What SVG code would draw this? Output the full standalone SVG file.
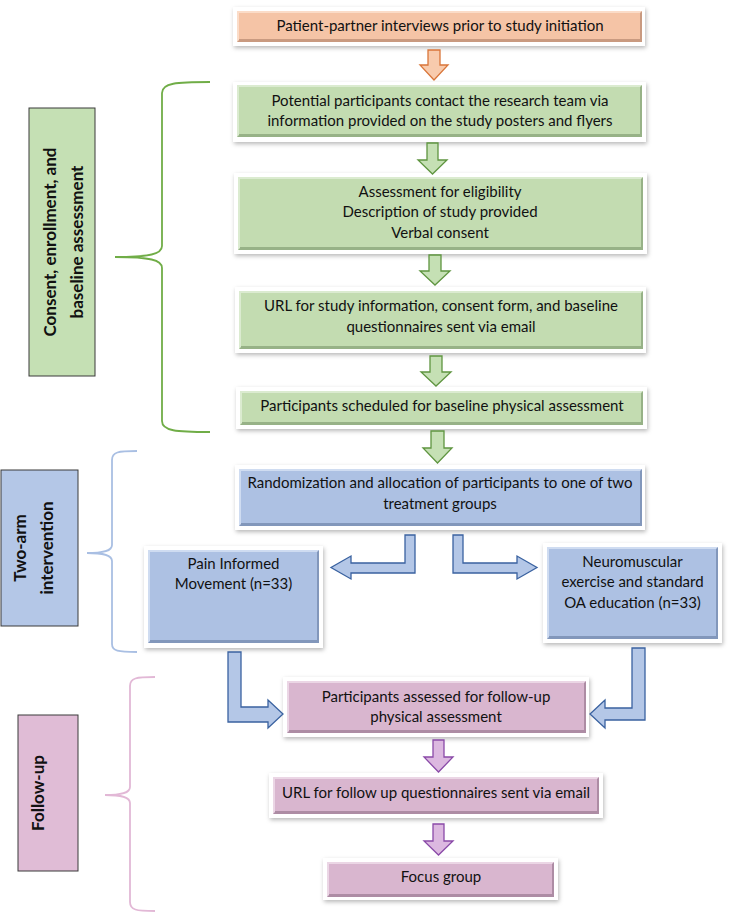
<svg xmlns="http://www.w3.org/2000/svg" width="731" height="913" viewBox="0 0 731 913">
<defs>
<filter id="sh" x="-10%" y="-20%" width="120%" height="150%">
<feDropShadow dx="1" dy="2" stdDeviation="2" flood-color="#000" flood-opacity="0.28"/>
</filter>
</defs>
<style>
.t{font-family:Lato,"Liberation Sans",sans-serif;font-size:15px;fill:#111;text-anchor:middle}
.lb{font-family:Lato,"Liberation Sans",sans-serif;font-size:17px;font-weight:bold;fill:#111;text-anchor:middle}
.frame{fill:#fff;filter:url(#sh)}
.o-d{fill:#c99a80}.o-l{fill:#fbdcc8}.o-f{fill:#f5c4a6}
.g-d{fill:#97b287}.g-l{fill:#dbebd0}.g-f{fill:#c3dcb1}
.b-d{fill:#8297bb}.b-l{fill:#cfdcf1}.b-f{fill:#adc1e3}
.p-d{fill:#ad8ca4}.p-l{fill:#ebd6e5}.p-f{fill:#d9b6cf}
.arr-o{fill:#f8cbad;stroke:#d9763a;stroke-width:1.3}
.arr-g{fill:#c5e0b4;stroke:#5f9540;stroke-width:1.3}
.arr-b{fill:#b4c7e7;stroke:#3a62a0;stroke-width:1.3}
.arr-p{fill:#dcb8e0;stroke:#8a4aa8;stroke-width:1.3}
.brace{fill:none;stroke-width:1.8}
.lbox{stroke:#3a3a3a;stroke-width:1}
</style>

<!-- Section labels and braces -->
<g id="label-consent">
<rect class="lbox" x="29" y="108" width="66" height="268" fill="#c5e0b4"/>
<text class="lb" transform="translate(56,242) rotate(-90)">Consent, enrollment, and</text>
<text class="lb" transform="translate(83,242) rotate(-90)">baseline assessment</text>
</g>
<g id="label-twoarm">
<rect class="lbox" x="1" y="470" width="77" height="156" fill="#b4c7e7"/>
<text class="lb" transform="translate(26,548) rotate(-90)">Two-arm</text>
<text class="lb" transform="translate(53,548) rotate(-90)">intervention</text>
</g>
<g id="label-followup">
<rect class="lbox" x="18" y="715" width="60" height="156" fill="#e0bcd6"/>
<text class="lb" transform="translate(44,793) rotate(-90)">Follow-up</text>
</g>
<g id="braces">
<path class="brace" stroke="#70ad47" d="M210,82 C176,82 162,83 162,93 L162,246 C162,254 150,257 115,257 C150,257 162,260 162,268 L162,421 C162,431 176,432 210,432"/>
<path class="brace" stroke="#a9bfe3" d="M137,451 C118,451 112,452 112,460 L112,545 C112,551 104,553 87,553 C104,553 112,555 112,561 L112,644 C112,651 118,652 137,652"/>
<path class="brace" stroke="#e2b8d6" d="M155,677 C136,677 130,678 130,686 L130,787 C130,793 122,795 105,795 C122,795 130,797 130,803 L130,902 C130,910 136,911 155,911"/>
</g>

<!-- Nodes -->
<g id="n-patient">
<rect class="frame" x="233" y="7" width="412" height="39"/>
<rect class="o-d" x="237" y="11" width="405" height="31"/>
<polygon class="o-l" points="237,11 642,11 640,13 239,13 239,40 237,42"/>
<rect class="o-f" x="239" y="13" width="401" height="26"/>
<text class="t" x="440" y="31">Patient-partner interviews prior to study initiation</text>
</g>

<g id="n-contact">
<rect class="frame" x="233" y="82" width="413" height="60"/>
<rect class="g-d" x="237" y="85" width="405" height="52"/>
<polygon class="g-l" points="237,85 642,85 640,87 239,87 239,135 237,137"/>
<rect class="g-f" x="239" y="87" width="401" height="47"/>
<text class="t" x="440" y="106">Potential participants contact the research team via</text>
<text class="t" x="440" y="126">information provided on the study posters and flyers</text>
</g>

<g id="n-eligibility">
<rect class="frame" x="234" y="173" width="413" height="81"/>
<rect class="g-d" x="238" y="177" width="405" height="73"/>
<polygon class="g-l" points="238,177 643,177 641,179 240,179 240,248 238,250"/>
<rect class="g-f" x="240" y="179" width="401" height="68"/>
<text class="t" x="440" y="197">Assessment for eligibility</text>
<text class="t" x="440" y="217">Description of study provided</text>
<text class="t" x="440" y="238">Verbal consent</text>
</g>

<g id="n-url">
<rect class="frame" x="235" y="287" width="411" height="66"/>
<rect class="g-d" x="239" y="291" width="404" height="58"/>
<polygon class="g-l" points="239,291 643,291 641,293 241,293 241,347 239,349"/>
<rect class="g-f" x="241" y="293" width="400" height="53"/>
<text class="t" x="441" y="311">URL for study information, consent form, and baseline</text>
<text class="t" x="441" y="332">questionnaires sent via email</text>
</g>

<g id="n-scheduled">
<rect class="frame" x="236" y="387" width="411" height="42"/>
<rect class="g-d" x="240" y="391" width="403" height="34"/>
<polygon class="g-l" points="240,391 643,391 641,393 242,393 242,423 240,425"/>
<rect class="g-f" x="242" y="393" width="399" height="29"/>
<text class="t" x="442" y="411">Participants scheduled for baseline physical assessment</text>
</g>

<g id="n-random">
<rect class="frame" x="235" y="465" width="410" height="65"/>
<rect class="b-d" x="239" y="469" width="403" height="57"/>
<polygon class="b-l" points="239,469 642,469 640,471 241,471 241,524 239,526"/>
<rect class="b-f" x="241" y="471" width="399" height="52"/>
<text class="t" x="440" y="488">Randomization and allocation of participants to one of two</text>
<text class="t" x="440" y="509">treatment groups</text>
</g>

<g id="n-pim">
<rect class="frame" x="144" y="546" width="179" height="102"/>
<rect class="b-d" x="148" y="550" width="171" height="93"/>
<polygon class="b-l" points="148,550 319,550 317,552 150,552 150,641 148,643"/>
<rect class="b-f" x="150" y="552" width="167" height="88"/>
<text class="t" x="233.5" y="569">Pain Informed</text>
<text class="t" x="233.5" y="589">Movement (n=33)</text>
</g>

<g id="n-neuro">
<rect class="frame" x="543" y="543" width="179" height="100"/>
<rect class="b-d" x="547" y="547" width="171" height="92"/>
<polygon class="b-l" points="547,547 718,547 716,549 549,549 549,637 547,639"/>
<rect class="b-f" x="549" y="549" width="167" height="87"/>
<text class="t" x="632.5" y="567">Neuromuscular</text>
<text class="t" x="632.5" y="587">exercise and standard</text>
<text class="t" x="632.5" y="608">OA education (n=33)</text>
</g>

<g id="n-assessed">
<rect class="frame" x="283" y="677" width="306" height="60"/>
<rect class="p-d" x="287" y="681" width="299" height="52"/>
<polygon class="p-l" points="287,681 586,681 584,683 289,683 289,731 287,733"/>
<rect class="p-f" x="289" y="683" width="295" height="47"/>
<text class="t" x="436" y="702">Participants assessed for follow-up</text>
<text class="t" x="436" y="722">physical assessment</text>
</g>

<g id="n-urlfollow">
<rect class="frame" x="269" y="773" width="334" height="45"/>
<rect class="p-d" x="273" y="777" width="326" height="37"/>
<polygon class="p-l" points="273,777 599,777 597,779 275,779 275,812 273,814"/>
<rect class="p-f" x="275" y="779" width="322" height="32"/>
<text class="t" x="436" y="798">URL for follow up questionnaires sent via email</text>
</g>

<g id="n-focus">
<rect class="frame" x="323" y="858" width="235" height="42"/>
<rect class="p-d" x="327" y="862" width="227" height="35"/>
<polygon class="p-l" points="327,862 554,862 552,864 329,864 329,895 327,897"/>
<rect class="p-f" x="329" y="864" width="223" height="30"/>
<text class="t" x="441" y="882">Focus group</text>
</g>

<!-- Connectors -->
<g id="connectors">
<polygon class="arr-o" points="428,50 440,50 440,65 448,65 434,80 420,65 428,65"/>
<polygon class="arr-g" points="427,143 438,143 438,160 447,160 432.5,174 418,160 427,160"/>
<polygon class="arr-g" points="429,255 441,255 441,271 450,271 435,285 420,271 429,271"/>
<polygon class="arr-g" points="430,356 442,356 442,372 451,372 436,386 421,372 430,372"/>
<polygon class="arr-g" points="431,431 444,431 444,448 452,448 437.5,463 423,448 431,448"/>
<polygon class="arr-b" points="405,535 415,535 415,573 351,573 351,579 331,567.5 351,556 351,563 405,563"/>
<polygon class="arr-b" points="453,535 463,535 463,563 517,563 517,556 537,567.5 517,579 517,573 453,573"/>
<polygon class="arr-b" points="228,652 241,652 241,707 268,707 268,700 283,714 268,728 268,722 228,722"/>
<polygon class="arr-b" points="632,648 645,648 645,720 605,720 605,728 590,714 605,700 605,708 632,708"/>
<polygon class="arr-p" points="433,740 444,740 444,757 453,757 438.5,772 424,757 433,757"/>
<polygon class="arr-p" points="433,824 444,824 444,841 453,841 438.5,855 424,841 433,841"/>
</g>
</svg>
